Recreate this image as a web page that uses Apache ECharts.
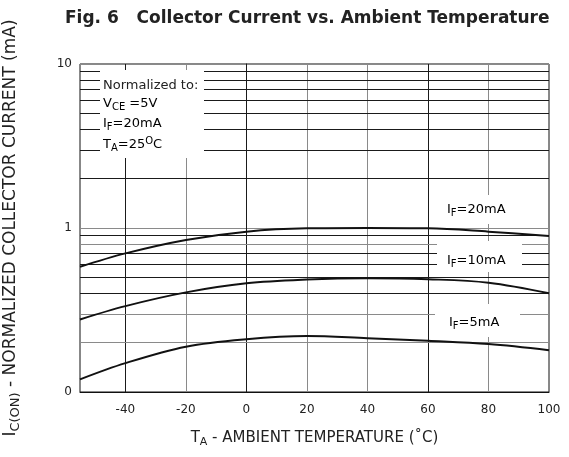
<!DOCTYPE html>
<html>
<head>
<meta charset="utf-8">
<script src="https://cdn.jsdelivr.net/npm/echarts@6/dist/echarts.min.js"></script>
<style>html,body{margin:0;padding:0;background:#fff;}#c{width:569px;height:457px;}</style>
</head>
<body>
<div id="c"></div>
<script>
// Data
const temps = [-55, -40, -20, 0, 20, 40, 60, 80, 100];
const if20 = [0.58, 0.70, 0.845, 0.95, 0.995, 1.0, 0.995, 0.95, 0.895];
const if10 = [0.277, 0.334, 0.405, 0.46, 0.485, 0.494, 0.487, 0.464, 0.40];
const if5 = [0.1195, 0.15, 0.189, 0.21, 0.2195, 0.2126, 0.205, 0.196, 0.18];
const xTickLabels = [-40, -20, 0, 20, 40, 60, 80, 100];
const xGridValues = [-40, -20, 0, 20, 40, 60, 80];
const yGridValues = [0.2, 0.3, 0.4, 0.5, 0.6, 0.7, 0.8, 0.9, 2, 3, 4, 5, 6, 7, 8, 9];
const yTickLabels = {0.1: '0', 1: '1', 10: '10'};

const BLACK = '#1a1a1a', GRAY = '#8a8a8a';
const xGridColor = {'-40': BLACK, '-20': GRAY, '0': BLACK, '20': GRAY, '40': GRAY, '60': BLACK, '80': GRAY};
const yGridColor = {0.2: GRAY, 0.3: GRAY, 0.4: BLACK, 0.5: BLACK, 0.6: BLACK, 0.7: BLACK, 0.8: GRAY, 0.9: BLACK,
  2: BLACK, 3: BLACK, 4: BLACK, 5: BLACK, 6: BLACK, 7: BLACK, 8: BLACK, 9: BLACK};

const FONT = 'DejaVu Sans';
const chart = echarts.init(document.getElementById('c'), null, {renderer: 'canvas'});

const gridLines = [];
xGridValues.forEach(v => gridLines.push({xAxis: v, lineStyle: {color: xGridColor[String(v)], width: 1, type: 'solid'}}));
yGridValues.forEach(v => gridLines.push({yAxis: v, lineStyle: {color: yGridColor[v], width: 1, type: 'solid'}}));

const mk = (arr) => temps.map((t, i) => [t, arr[i]]);
const curveStyle = {color: '#111', width: 2};

function richFor(size) {
  return {
    base: {fontSize: size, fontFamily: FONT, color: '#222'},
    sub: {fontSize: Math.round(size * 0.75), fontFamily: FONT, color: '#222', padding: [Math.round(size * 0.55), 0, 0, 0]},
    sup: {fontSize: Math.round(size * 0.75), fontFamily: FONT, color: '#222', padding: [0, 0, Math.round(size * 0.55), 0]}
  };
}
const rich13 = richFor(13);

function label(x, y, w, h, text, tx, ty) {
  return [
    {type: 'rect', z: 10, silent: true, shape: {x: x, y: y, width: w, height: h}, style: {fill: '#fff'}},
    {type: 'text', z: 11, silent: true, x: tx, y: ty, style: {text: text, rich: rich13, verticalAlign: 'middle'}}
  ];
}

const graphics = [].concat(
  [{type: 'rect', z: 10, silent: true, shape: {x: 100, y: 70, width: 104, height: 88}, style: {fill: '#fff'}},
   {type: 'text', z: 11, silent: true, x: 103, y: 86, style: {text: 'Normalized to:', fontSize: 13, fontFamily: FONT, fill: '#222', verticalAlign: 'middle'}},
   {type: 'text', z: 11, silent: true, x: 103, y: 104, style: {text: '{base|V}{sub|CE}{base| =5V}', rich: rich13, verticalAlign: 'middle'}},
   {type: 'text', z: 11, silent: true, x: 103, y: 124, style: {text: '{base|I}{sub|F}{base|=20mA}', rich: rich13, verticalAlign: 'middle'}},
   {type: 'text', z: 11, silent: true, x: 103, y: 145, style: {text: '{base|T}{sub|A}{base|=25}{sup|O}{base|C}', rich: rich13, verticalAlign: 'middle'}}
  ],
  label(437, 195, 84, 29, '{base|I}{sub|F}{base|=20mA}', 447, 210),
  label(437, 241, 85, 31, '{base|I}{sub|F}{base|=10mA}', 447, 261),
  label(435, 304, 85, 33, '{base|I}{sub|F}{base|=5mA}', 449, 323)
);

chart.setOption({
  animation: false,
  backgroundColor: '#fff',
  title: {
    text: 'Fig. 6   Collector Current vs. Ambient Temperature',
    left: 60, top: 5,
    textStyle: {fontSize: 17, fontWeight: 'bold', fontFamily: FONT, color: '#222'}
  },
  grid: {left: 80, right: 20, top: 64, bottom: 65, outerBoundsMode: 'none', containLabel: false,
         show: true, borderColor: '#111', borderWidth: 1, backgroundColor: 'transparent'},
  xAxis: {
    type: 'value', min: -55, max: 100, interval: 5,
    axisLine: {show: true, lineStyle: {color: '#111', width: 1}},
    axisTick: {show: false},
    splitLine: {show: false},
    axisLabel: {
      margin: 12, fontSize: 12, fontFamily: FONT, color: '#222',
      formatter: v => (xTickLabels.indexOf(v) >= 0 ? String(v) : '')
    },
    name: '{base|T}{sub|A}{base| - AMBIENT TEMPERATURE (˚C)}',
    nameLocation: 'middle', nameGap: 37,
    nameTextStyle: {rich: richFor(15), fontSize: 15, fontFamily: FONT, color: '#222'}
  },
  yAxis: {
    type: 'log', logBase: 10, min: 0.1, max: 10,
    axisLine: {show: true, lineStyle: {color: '#111', width: 1}},
    axisTick: {show: false},
    minorTick: {show: false},
    splitLine: {show: true, lineStyle: {color: GRAY, width: 1}},
    axisLabel: {
      margin: 8, fontSize: 12, fontFamily: FONT, color: '#222',
      formatter: v => (yTickLabels[+v.toPrecision(3)] !== undefined ? yTickLabels[+v.toPrecision(3)] : '')
    },
    name: '{base|I}{sub|C(ON)}{base| - NORMALIZED COLLECTOR CURRENT (mA)}',
    nameLocation: 'middle', nameGap: 58, nameRotate: 90,
    nameTextStyle: {rich: richFor(17), fontSize: 17, fontFamily: FONT, color: '#222'}
  },
  series: [
    {type: 'line', name: 'grid', data: [], silent: true,
     markLine: {silent: true, symbol: ['none', 'none'], label: {show: false}, animation: false, data: gridLines}},
    {type: 'line', name: 'IF=20mA', data: mk(if20), smooth: 0.35, showSymbol: false, lineStyle: curveStyle, z: 5},
    {type: 'line', name: 'IF=10mA', data: mk(if10), smooth: 0.35, showSymbol: false, lineStyle: curveStyle, z: 5},
    {type: 'line', name: 'IF=5mA', data: mk(if5), smooth: 0.35, showSymbol: false, lineStyle: curveStyle, z: 5}
  ],
  graphic: graphics
});
</script>
</body>
</html>
